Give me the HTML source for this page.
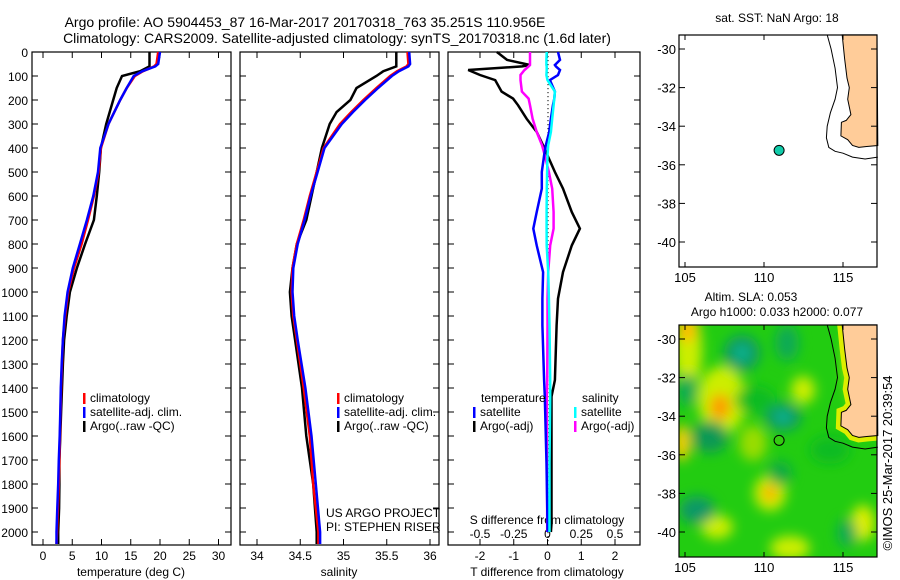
<!DOCTYPE html>
<html><head><meta charset="utf-8">
<style>
body{margin:0;background:#fff;}
svg{display:block;font-family:"Liberation Sans",sans-serif;}
text{fill:#000;}
</style></head>
<body>
<svg id="s" width="900" height="580" viewBox="0 0 900 580" xmlns="http://www.w3.org/2000/svg">
<defs>
<filter id="blur" x="-20%" y="-20%" width="140%" height="140%"><feGaussianBlur stdDeviation="6"/></filter>
<clipPath id="mapclip"><rect x="679" y="325" width="198" height="232"/></clipPath>
</defs>
<text x="305" y="27" font-size="14" text-anchor="middle">Argo profile: AO 5904453_87 16-Mar-2017 20170318_763 35.251S 110.956E</text>
<text x="337" y="43" font-size="14" text-anchor="middle">Climatology: CARS2009. Satellite-adjusted climatology: synTS_20170318.nc (1.6d later)</text>
<g id="g"></g>
</svg>
<script>
// ---- data ----
const tDepth  = [0,50,60,80,100,150,200,300,400,500,600,700,800,900,1000,1100,1200,1300,1400,1500,1600,1700,1800,1900,2000,2050];
const tClim   = [19.7,19.4,19.0,17.1,15.7,14.3,13.2,11.2,9.9,9.5,8.7,7.7,6.6,5.3,4.3,3.8,3.4,3.25,3.1,3.0,2.9,2.8,2.7,2.55,2.4,2.3];
const tSat    = [20.0,19.7,19.2,17.0,15.5,14.3,13.2,11.2,9.8,9.4,8.6,7.5,6.3,5.1,4.2,3.7,3.4,3.2,3.05,2.95,2.85,2.7,2.6,2.45,2.3,2.3];
const tArgo   = [18.2,18.2,18.2,16.6,13.5,12.6,12.0,10.8,9.9,9.6,9.2,8.7,7.2,5.8,4.6,4.05,3.6,3.4,3.25,3.1,2.95,2.8,2.8,2.75,2.6,2.6];
const sDepth  = [0,50,60,80,100,150,200,250,300,400,500,600,700,800,900,1000,1100,1200,1400,1600,1800,2000,2050];
const sClim   = [35.74,35.75,35.73,35.62,35.54,35.38,35.23,35.09,34.96,34.77,34.69,34.61,34.54,34.46,34.41,34.40,34.42,34.46,34.54,34.61,34.65,34.71,34.71];
const sSat    = [35.76,35.77,35.75,35.64,35.56,35.40,35.25,35.11,34.98,34.78,34.70,34.62,34.55,34.47,34.42,34.41,34.43,34.47,34.56,34.63,34.68,34.73,34.73];
const sArgo   = [35.61,35.61,35.61,35.46,35.38,35.15,35.08,34.92,34.84,34.75,34.69,34.63,34.57,34.46,34.41,34.38,34.40,34.44,34.52,34.57,34.65,34.69,34.69];
const dDepth  = [0,33,54,60,75,96,117,165,194,222,278,333,389,431,500,569,667,736,806,917,1028,1139,1367,1436,1714,1965,2000];
const dTsat   = [0.31,0.37,0.22,0.25,0.37,0.31,0.07,0.22,0.2,0.16,0.1,0.05,-0.05,-0.1,-0.17,-0.17,-0.32,-0.42,-0.32,-0.13,-0.15,-0.15,-0.1,-0.08,-0.03,0,0];
const dTargo  = [-1.5,-1.2,-0.52,-0.75,-2.35,-2.0,-1.55,-1.36,-1.02,-0.87,-0.62,-0.32,-0.13,0,0.22,0.46,0.72,0.96,0.72,0.46,0.31,0.27,0.22,0.12,0.12,0.12,0.1];
const dSsat   = [-0.006,-0.008,-0.008,-0.006,-0.006,-0.008,0.0,0.055,0.05,0.045,0.035,0.025,0.005,0.0,-0.003,-0.005,-0.007,-0.007,-0.006,0.005,0.01,0.015,0.02,0.02,0.015,0.015,0.015];
const dSargo  = [-0.13,-0.13,-0.13,-0.14,-0.17,-0.2,-0.2,-0.19,-0.14,-0.13,-0.11,-0.08,-0.04,-0.02,0.01,0.035,0.045,0.045,0.02,0.005,0,0,-0.002,-0.005,-0.004,-0.002,-0.002];
const depthTicks = [0,100,200,300,400,500,600,700,800,900,1000,1100,1200,1300,1400,1500,1600,1700,1800,1900,2000];
const tTicks = [0,5,10,15,20,25,30];
const sTicks = [34,34.5,35,35.5,36];
const dTTicks = [-2,-1,0,1,2];
const dSTickLabels = ["-0.5","-0.25","0","0.25","0.5"];
const latTicks = [-30,-32,-34,-36,-38,-40];
const lonTicks = [105,110,115];
const argoLon = 110.956, argoLat = -35.251;
// coastline (lon, lat)
const landLon = [114.95,115.1,115.25,115.4,115.3,115.5,115.2,114.9,114.87,115.3,115.6,116.0,116.5,117.2];
const landLat = [-29.27,-30.5,-31.5,-32.0,-32.6,-33.4,-33.7,-33.8,-34.5,-34.7,-35.0,-35.1,-35.05,-35.0];
const shelfLon= [114.0,114.25,114.5,114.65,114.5,114.2,114.0,113.95,114.1,114.5,115.0,115.6,116.4,117.2];
const shelfLat= [-29.27,-30.0,-31.0,-32.0,-32.6,-33.3,-34.0,-34.6,-35.1,-35.3,-35.4,-35.6,-35.7,-35.6];

// ---- helpers ----
const NS="http://www.w3.org/2000/svg";
const G=document.getElementById('g');
function mk(tag,attrs,parent){const e=document.createElementNS(NS,tag);for(const k in attrs)e.setAttribute(k,attrs[k]);(parent||G).appendChild(e);return e;}
function txt(x,y,s,size,anchor,parent){const e=mk('text',{x:x,y:y,'font-size':size||12,'text-anchor':anchor||'middle'},parent);e.textContent=s;return e;}
const yD = d => 52 + d*0.24;
const xT = t => 43 + t*5.85;
const xS = s => 257 + (s-34)*86.5;
const xDT = v => 547.5 + v*33.75;
const xDS = v => 547.5 + v*135;
const mx = lon => 685 + (lon-105)*15.8;
const myTop = lat => 49 + (-30-lat)*19.3;
const myBot = lat => 339 + (-30-lat)*19.3;

function panel(x0,x1,name){
  const r=mk('rect',{x:x0,y:52,width:x1-x0,height:493,fill:'none',stroke:'#000','stroke-width':1.2});
  
  
  depthTicks.forEach(d=>{
    mk('line',{x1:x0,x2:x0+6,y1:yD(d),y2:yD(d),stroke:'#000'});
    mk('line',{x1:x1,x2:x1-6,y1:yD(d),y2:yD(d),stroke:'#000'});
  });
}
function line(xs,ds,fx,color,w,name){
  const pts=xs.map((v,i)=>fx(v).toFixed(1)+','+yD(ds[i]).toFixed(1)).join(' ');
  const p=mk('polyline',{points:pts,fill:'none',stroke:color,'stroke-width':w||2.5});
  
  
}

// panel 1 temperature
panel(32,231,'temperature-panel');
depthTicks.forEach(d=>{const t=txt(28,yD(d)+5,String(d),12,'end');});
tTicks.forEach(v=>{mk('line',{x1:xT(v),x2:xT(v),y1:52,y2:58,stroke:'#000'});mk('line',{x1:xT(v),x2:xT(v),y1:545,y2:539,stroke:'#000'});
  const t=txt(xT(v),560,String(v));});
const tt=txt(131,576,'temperature (deg C)');
line(tArgo,tDepth,xT,'#000',2.5,'temperature-argo-line');
line(tClim,tDepth,xT,'#f00',2.5,'temperature-climatology-line');
line(tSat,tDepth,xT,'#00f',2.5,'temperature-satellite-line');

// panel 2 salinity
panel(240,439,'salinity-panel');
sTicks.forEach(v=>{mk('line',{x1:xS(v),x2:xS(v),y1:52,y2:58,stroke:'#000'});mk('line',{x1:xS(v),x2:xS(v),y1:545,y2:539,stroke:'#000'});
  const t=txt(xS(v),560,String(v));});
const st=txt(339,576,'salinity');
line(sArgo,sDepth,xS,'#000',2.5,'salinity-argo-line');
line(sClim,sDepth,xS,'#f00',2.5,'salinity-climatology-line');
line(sSat,sDepth,xS,'#00f',2.5,'salinity-satellite-line');

// legends
function legend(x,y0,items,name){
  const g=mk('g',{});
  
  
  items.forEach((it,i)=>{const y=y0+i*14;mk('rect',{x:x,y:y-9,width:2.5,height:11,fill:it[0]},g);txt(x+7,y,it[1],12,'start',g);});
}
legend(83,402,[['#f00','climatology'],['#00f','satellite-adj. clim.'],['#000','Argo(..raw -QC)']],'temperature-legend');
legend(337,402,[['#f00','climatology'],['#00f','satellite-adj. clim.'],['#000','Argo(..raw -QC)']],'salinity-legend');
txt(326,517,'US ARGO PROJECT',12,'start');
txt(326,531,'PI: STEPHEN RISER',12,'start');

// panel 3 differences
panel(448,640,'difference-panel');
for(let y=yD(0);y<545;y+=4) mk('rect',{x:547.5,y:y,width:1,height:1.2,fill:'#000'});
dTTicks.forEach((v,i)=>{const x=xDT(v);
  mk('line',{x1:x,x2:x,y1:52,y2:58,stroke:'#000'});mk('line',{x1:x,x2:x,y1:545,y2:539,stroke:'#000'});
  const t=txt(x,560,String(v));
  const s=txt(x,538,dSTickLabels[i]);});
txt(547,524,'S difference from climatology');
const dt=txt(547,576,'T difference from climatology');
line(dTargo,dDepth,xDT,'#000',2.5,'t-diff-argo-line');
line(dSargo,dDepth,xDS,'#f0f',2.5,'s-diff-argo-line');
line(dTsat,dDepth,xDT,'#00f',2.5,'t-diff-satellite-line');
line(dSsat,dDepth,xDS,'#0ff',2.5,'s-diff-satellite-line');
txt(481,402,'temperature',12,'start');
txt(582,402,'salinity',12,'start');
legend(473,416,[['#00f','satellite'],['#000','Argo(-adj)']],'t-diff-legend');
legend(574,416,[['#0ff','satellite'],['#f0f','Argo(-adj)']],'s-diff-legend');

// maps
function mapFrame(top,my,name){
  const r=mk('rect',{x:679,y:top,width:198,height:232,fill:'none',stroke:'#000','stroke-width':1.2});
  
  
  latTicks.forEach(l=>{const y=my(l);mk('line',{x1:679,x2:685,y1:y,y2:y,stroke:'#000'});mk('line',{x1:877,x2:871,y1:y,y2:y,stroke:'#000'});
    txt(676,y+5,String(l),13,'end');});
  lonTicks.forEach(l=>{const x=mx(l);mk('line',{x1:x,x2:x,y1:top,y2:top+5,stroke:'#000'});mk('line',{x1:x,x2:x,y1:top+232,y2:top+227,stroke:'#000'});
    txt(x,top+247,String(l),13);});
}
function landPts(my){return landLon.map((l,i)=>mx(l).toFixed(1)+','+my(landLat[i]).toFixed(1)).join(' ')+' 877,'+my(-29.27);}
function coast(my){
  const p=mk('polygon',{points:landPts(my),fill:'#ffcc99',stroke:'#000','stroke-width':1});
  
  
  mk('polyline',{points:shelfLon.map((l,i)=>mx(l).toFixed(1)+','+my(shelfLat[i]).toFixed(1)).join(' '),fill:'none',stroke:'#000','stroke-width':1});
}
// top map
mk('rect',{x:679,y:35,width:198,height:232,fill:'#fff'});
coast(myTop);
mapFrame(35,myTop,'sst-map');
const d1=mk('circle',{cx:mx(argoLon),cy:myTop(argoLat),r:5,fill:'#11ccaa',stroke:'#000'});

txt(777,22,'sat. SST: NaN Argo: 18',12);

// bottom map (SLA)
const cg=mk('g',{'clip-path':'url(#mapclip)'});
mk('rect',{x:679,y:325,width:198,height:232,fill:'#22cc11'},cg);
const bg=mk('g',{filter:'url(#blur)'},cg);
const blobs=[[688,350,14,40,'#ccee00'],[687,330,10,12,'#ffbb00'],[722,400,24,34,'#ccee00'],[720,407,10,13,'#ff9900'],[682,443,8,18,'#ffcc00'],
[803,390,12,14,'#ccee00'],[770,493,16,18,'#ccee00'],[770,493,7,8,'#ffaa00'],[717,527,16,12,'#ccee00'],[790,548,20,12,'#ccee00'],[863,523,12,18,'#ddee00'],[753,443,14,18,'#99dd00'],
[742,353,18,18,'#119966'],[742,353,7,7,'#11bb99'],[787,343,12,18,'#11aa55'],[783,417,18,14,'#119966'],[783,417,7,6,'#11bb99'],[710,437,18,16,'#119955'],[687,390,10,16,'#11aa55'],[697,510,18,14,'#119966'],[780,473,12,12,'#11aa44'],[847,533,10,14,'#11aa55'],[830,450,20,14,'#11bb22'],[755,400,20,14,'#11bb22'],[850,360,5,30,'#ccee00'],[860,395,10,14,'#ccee00']];
blobs.forEach(b=>mk('ellipse',{cx:b[0],cy:b[1],rx:b[2],ry:b[3],fill:b[4]},bg));
mk('polygon',{points:landPts(myBot),fill:'#ddee00',stroke:'#ddee00','stroke-width':10},cg);
coast(myBot);
mapFrame(325,myBot,'sla-map');
const d2=mk('circle',{cx:mx(argoLon),cy:myBot(argoLat),r:5,fill:'#33cc11',stroke:'#000'});

txt(751,301,'Altim. SLA: 0.053',12);
txt(777,316,'Argo h1000: 0.033 h2000: 0.077',12);
const cp=txt(0,0,'©IMOS 25-Mar-2017 20:39:54',13);
cp.setAttribute('transform','translate(892,463) rotate(-90)');

</script>
</body></html>
